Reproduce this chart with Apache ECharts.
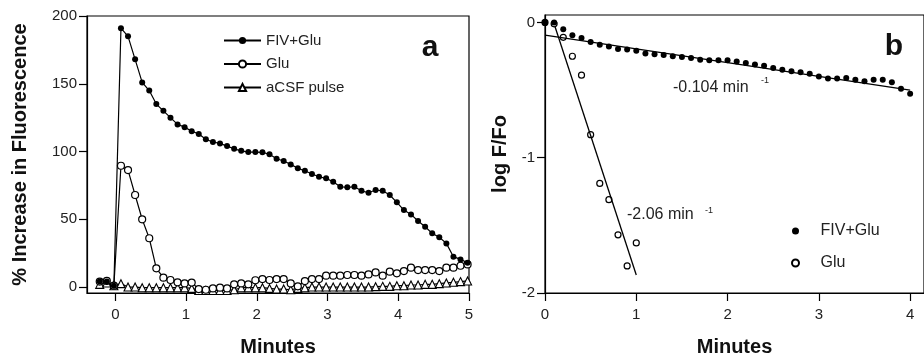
<!DOCTYPE html>
<html><head><meta charset="utf-8">
<script src="https://cdn.jsdelivr.net/npm/echarts@6/dist/echarts.min.js"></script>
<style>html,body{margin:0;padding:0;background:#fff}#c{width:924px;height:362px}</style>
</head><body><div id="c"></div>
<script>
// ---- Panel a data ----
const timesA = [-0.22,-0.12,-0.02,0.08,0.18,0.28,0.38,0.48,0.58,0.68,0.78,0.88,0.98,1.08,1.18,1.28,1.38,1.48,1.58,1.68,1.78,1.88,1.98,2.08,2.18,2.28,2.38,2.48,2.58,2.68,2.78,2.88,2.98,3.08,3.18,3.28,3.38,3.48,3.58,3.68,3.78,3.88,3.98,4.08,4.18,4.28,4.38,4.48,4.58,4.68,4.78,4.88,4.98];
const fivGluA = [4,4,1,191,185,168,151,145,135,130,125,120,118,115,113,109,107,106,104,102,100.5,99.6,99.6,99.4,98,94.7,93,90.5,87.6,85.8,83.4,81.4,80.2,77.7,74,73.6,74,71,69.6,71.6,71,67.9,62.5,56.8,53.6,48.7,44.5,39.6,36.7,32.2,22.4,20.4,17.9];
const gluA = [4,4.5,1,89.5,86.3,67.9,50,36,13.8,6.9,5.2,3.5,2.7,3.3,-1.5,-2,-1,-0.5,-1,2,2.7,2,5,5.9,5.2,5.9,5.9,2.7,0.5,4.4,5.9,5.9,8.4,8.4,8.4,8.9,8.9,8.4,9.3,10.8,8.4,11.3,10.1,11.8,14.3,12.5,12.5,12.5,11.8,14.3,14.3,15.7,16.7];
const acsfA = [2,3,1,2.5,0,0,-0.5,-0.5,-0.5,-0.5,-0.5,-0.5,-0.5,-1,-2.5,-2.5,-2.5,-2.5,-2.5,-2,-0.5,-0.5,-0.5,-0.5,-1,-1.5,-1.5,-2,-1,-0.5,0,0,0,0,0,0,0,0,0,0.3,0.5,0.5,1,1,1.5,1.5,2,2,2.5,3,3.5,4,4.5];
const xTicksA = [0,1,2,3,4,5];
const yTicksA = [0,50,100,150,200];

// ---- Panel b data ----
const timesB = [0,0.1,0.2,0.3,0.4,0.5,0.6,0.7,0.8,0.9,1.0,1.1,1.2,1.3,1.4,1.5,1.6,1.7,1.8,1.9,2.0,2.1,2.2,2.3,2.4,2.5,2.6,2.7,2.8,2.9,3.0,3.1,3.2,3.3,3.4,3.5,3.6,3.7,3.8,3.9,4.0];
const fivGluB = [0,0,-0.05,-0.095,-0.115,-0.145,-0.165,-0.177,-0.196,-0.2,-0.21,-0.23,-0.235,-0.24,-0.25,-0.255,-0.263,-0.275,-0.28,-0.28,-0.28,-0.288,-0.3,-0.31,-0.32,-0.337,-0.35,-0.36,-0.368,-0.38,-0.4,-0.415,-0.415,-0.41,-0.423,-0.435,-0.423,-0.423,-0.443,-0.49,-0.528];
const timesBGlu = [0,0.1,0.2,0.3,0.4,0.5,0.6,0.7,0.8,0.9,1.0];
const gluB = [0,-0.01,-0.11,-0.25,-0.39,-0.83,-1.19,-1.31,-1.57,-1.8,-1.63];
const fitFivX = [0,4.0];
const fitFivY = [-0.093,-0.5];
const fitGluX = [0.11,1.0];
const fitGluY = [-0.032,-1.867];
const xTicksB = [0,1,2,3,4];
const yTicksB = [-2,-1,0];

const zip = (xs, ys) => xs.map((x, i) => [x, ys[i]]);
const FONT = '"Liberation Sans", Arial, sans-serif';
const axisLineStyle = {color:'#000', width:1.2};
const tickLabel = {fontSize:15, color:'#222', fontFamily:FONT};
const nameStyle = {fontSize:20, fontWeight:'bold', color:'#111', fontFamily:FONT};

const chart = echarts.init(document.getElementById('c'), null, {renderer:'canvas'});
chart.setOption({
  animation:false,
  backgroundColor:'#fff',
  textStyle:{fontFamily:FONT},
  grid:[
    {left:87, top:16, width:382, height:277, show:true, borderColor:'#000', borderWidth:1.2, backgroundColor:'transparent'},
    {left:545, top:15, width:382, height:278, show:true, borderColor:'#000', borderWidth:1.2, backgroundColor:'transparent'}
  ],
  xAxis:[
    {gridIndex:0, type:'value', min:-0.4, max:5,
     axisLine:{show:true, onZero:false, lineStyle:axisLineStyle},
     axisTick:{show:true, inside:false, length:8, customValues:xTicksA, lineStyle:axisLineStyle},
     axisLabel:{customValues:xTicksA, margin:14, ...tickLabel},
     splitLine:{show:false},
     name:'Minutes', nameLocation:'middle', nameGap:44, nameTextStyle:nameStyle},
    {gridIndex:1, type:'value', min:0, max:4.152,
     axisLine:{show:true, onZero:false, lineStyle:axisLineStyle},
     axisTick:{show:true, inside:false, length:8, customValues:xTicksB, lineStyle:axisLineStyle},
     axisLabel:{customValues:xTicksB, margin:14, ...tickLabel},
     splitLine:{show:false},
     name:'Minutes', nameLocation:'middle', nameGap:44, nameTextStyle:nameStyle}
  ],
  yAxis:[
    {gridIndex:0, type:'value', min:-4.4, max:200,
     axisLine:{show:true, onZero:false, lineStyle:axisLineStyle},
     axisTick:{show:true, inside:false, length:8, customValues:yTicksA, lineStyle:axisLineStyle},
     axisLabel:{customValues:yTicksA, margin:10, ...tickLabel},
     splitLine:{show:false},
     name:'% Increase in Fluorescence', nameLocation:'middle', nameGap:57, nameRotate:90, nameTextStyle:nameStyle},
    {gridIndex:1, type:'value', min:-2, max:0.055,
     axisLine:{show:true, onZero:false, lineStyle:axisLineStyle},
     axisTick:{show:true, inside:false, length:8, customValues:yTicksB, lineStyle:axisLineStyle},
     axisLabel:{customValues:yTicksB, margin:10, ...tickLabel},
     splitLine:{show:false},
     name:'log F/Fo', nameLocation:'middle', nameGap:35, nameRotate:90, nameTextStyle:nameStyle}
  ],
  legend:[
    {orient:'vertical', left:218, top:28, itemWidth:37, itemHeight:9, itemGap:8.5,
     textStyle:{fontSize:15, lineHeight:15, color:'#222', fontFamily:FONT},
     data:['FIV+Glu','Glu','aCSF pulse']},
    {orient:'vertical', left:786, top:218, itemWidth:40, itemHeight:7, itemGap:16,
     textStyle:{fontSize:16, lineHeight:16, color:'#222', fontFamily:FONT},
     formatter: n => n.replace(' (b)', ''),
     data:['FIV+Glu (b)','Glu (b)']}
  ],
  series:[
    {name:'aCSF pulse', type:'line', xAxisIndex:0, yAxisIndex:0, data:zip(timesA, acsfA),
     symbol:'triangle', symbolSize:8, showAllSymbol:true,
     lineStyle:{color:'#000', width:1.2}, itemStyle:{color:'#fff', borderColor:'#000', borderWidth:1.1}},
    {name:'Glu', type:'line', xAxisIndex:0, yAxisIndex:0, data:zip(timesA, gluA),
     symbol:'circle', symbolSize:7, showAllSymbol:true,
     lineStyle:{color:'#000', width:1.2}, itemStyle:{color:'#fff', borderColor:'#000', borderWidth:1.2}},
    {name:'FIV+Glu', type:'line', xAxisIndex:0, yAxisIndex:0, data:zip(timesA, fivGluA),
     symbol:'circle', symbolSize:6, showAllSymbol:true,
     lineStyle:{color:'#000', width:1.2}, itemStyle:{color:'#000', borderColor:'#000', borderWidth:0}},
    {name:'fitGlu', type:'line', xAxisIndex:1, yAxisIndex:1, data:zip(fitGluX, fitGluY),
     symbol:'none', lineStyle:{color:'#000', width:1.3}},
    {name:'fitFiv', type:'line', xAxisIndex:1, yAxisIndex:1, data:zip(fitFivX, fitFivY),
     symbol:'none', lineStyle:{color:'#000', width:1.3}},
    {name:'Glu (b)', type:'scatter', xAxisIndex:1, yAxisIndex:1, data:zip(timesBGlu, gluB),
     symbol:'circle', symbolSize:6, itemStyle:{color:'#fff', borderColor:'#000', borderWidth:1.2, opacity:1}},
    {name:'FIV+Glu (b)', type:'scatter', xAxisIndex:1, yAxisIndex:1, data:zip(timesB, fivGluB),
     symbol:'circle', symbolSize:6, itemStyle:{color:'#000', borderWidth:0, opacity:1}}
  ],
  graphic:[
    {type:'text', x:673, y:88, style:{text:'-0.104 min', font:'16px '+FONT, fill:'#222', verticalAlign:'middle'}},
    {type:'text', x:761, y:81, style:{text:'-1', font:'9px '+FONT, fill:'#222', verticalAlign:'middle'}},
    {type:'text', x:627, y:215, style:{text:'-2.06 min', font:'16px '+FONT, fill:'#222', verticalAlign:'middle'}},
    {type:'text', x:705, y:211, style:{text:'-1', font:'9px '+FONT, fill:'#222', verticalAlign:'middle'}},
    {type:'text', x:430, y:47.5, style:{text:'a', font:'bold 30px '+FONT, fill:'#111', align:'center', verticalAlign:'middle'}},
    {type:'text', x:894, y:46.5, style:{text:'b', font:'bold 30px '+FONT, fill:'#111', align:'center', verticalAlign:'middle'}}
  ]
});
</script></body></html>
